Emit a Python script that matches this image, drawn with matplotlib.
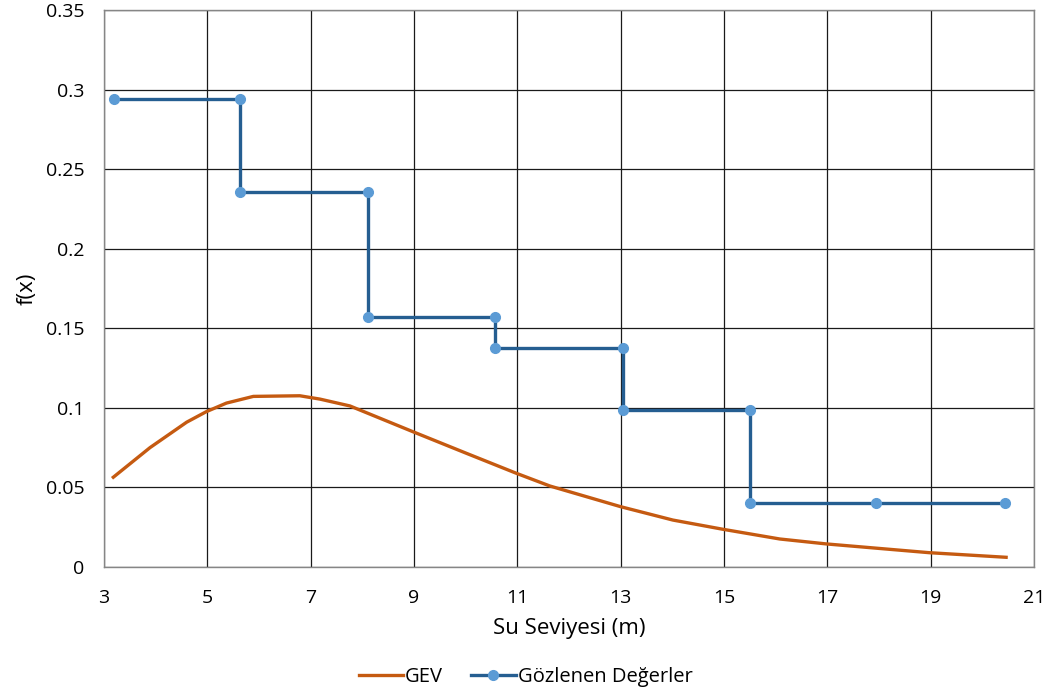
import matplotlib
matplotlib.use("Agg")
import matplotlib.pyplot as plt

plt.rcParams['font.family'] = ['Open Sans', 'DejaVu Sans']

# GEV probability density curve
gev_x = [3.18, 3.89, 4.60, 4.98, 5.37, 5.89, 6.79, 7.18, 7.76, 8.98, 10.01,
         10.98, 11.63, 13.0, 14.01, 14.98, 16.08, 16.98, 18.97, 20.46]
gev_y = [0.0564, 0.0750, 0.0910, 0.0976, 0.1030, 0.1072, 0.1076, 0.1055,
         0.1012, 0.0850, 0.0715, 0.0589, 0.0509, 0.0379, 0.0295, 0.0237,
         0.0176, 0.0145, 0.0090, 0.0061]

# Observed values (step histogram outline)
obs_x = [3.19, 5.63, 5.63, 8.11, 8.11, 10.56, 10.56, 13.04, 13.04, 15.50,
         15.50, 17.95, 20.43]
obs_y = [0.294, 0.294, 0.2357, 0.2357, 0.157, 0.157, 0.1376, 0.1376,
         0.0987, 0.0987, 0.0402, 0.0402, 0.0402]

x_ticks = [3, 5, 7, 9, 11, 13, 15, 17, 19, 21]
y_ticks = [0, 0.05, 0.1, 0.15, 0.2, 0.25, 0.3, 0.35]
y_tick_labels = ['0', '0.05', '0.1', '0.15', '0.2', '0.25', '0.3', '0.35']

fig = plt.figure(figsize=(10.51, 6.98), dpi=100)
ax = fig.add_axes([104 / 1051, 1 - 567 / 698, (1034 - 104) / 1051, (567 - 10) / 698])

ax.plot(gev_x, gev_y, color='#C55A11', lw=2.4, label='GEV', zorder=3,
        solid_joinstyle='round')
ax.plot(obs_x, obs_y, color='#255E91', lw=2.4, marker='o', ms=7,
        mfc='#5B9BD5', mec='#5B9BD5', label='Gözlenen Değerler', zorder=4)

ax.set_xlim(3, 21)
ax.set_ylim(0, 0.35)
ax.set_xticks(x_ticks)
ax.set_yticks(y_ticks)
ax.set_yticklabels(y_tick_labels)
ax.tick_params(axis='both', length=0, labelsize=14, colors='#000000')
ax.tick_params(axis='x', pad=16)
ax.tick_params(axis='y', pad=14)
ax.grid(True, color='#1a1a1a', lw=0.9)
ax.set_axisbelow(True)
for s in ax.spines.values():
    s.set_color('#868686')
    s.set_linewidth(1.0)

ax.set_xlabel('Su Seviyesi (m)', fontsize=16, labelpad=8)
ax.set_ylabel('f(x)', fontsize=16, labelpad=6)

fig.legend(loc='center', bbox_to_anchor=(0.5, 1 - 677 / 698), ncol=2,
           frameon=False, fontsize=14.5, handlelength=2.2, columnspacing=1.4,
           handletextpad=0.1)

fig.savefig('out.png', dpi=100)
